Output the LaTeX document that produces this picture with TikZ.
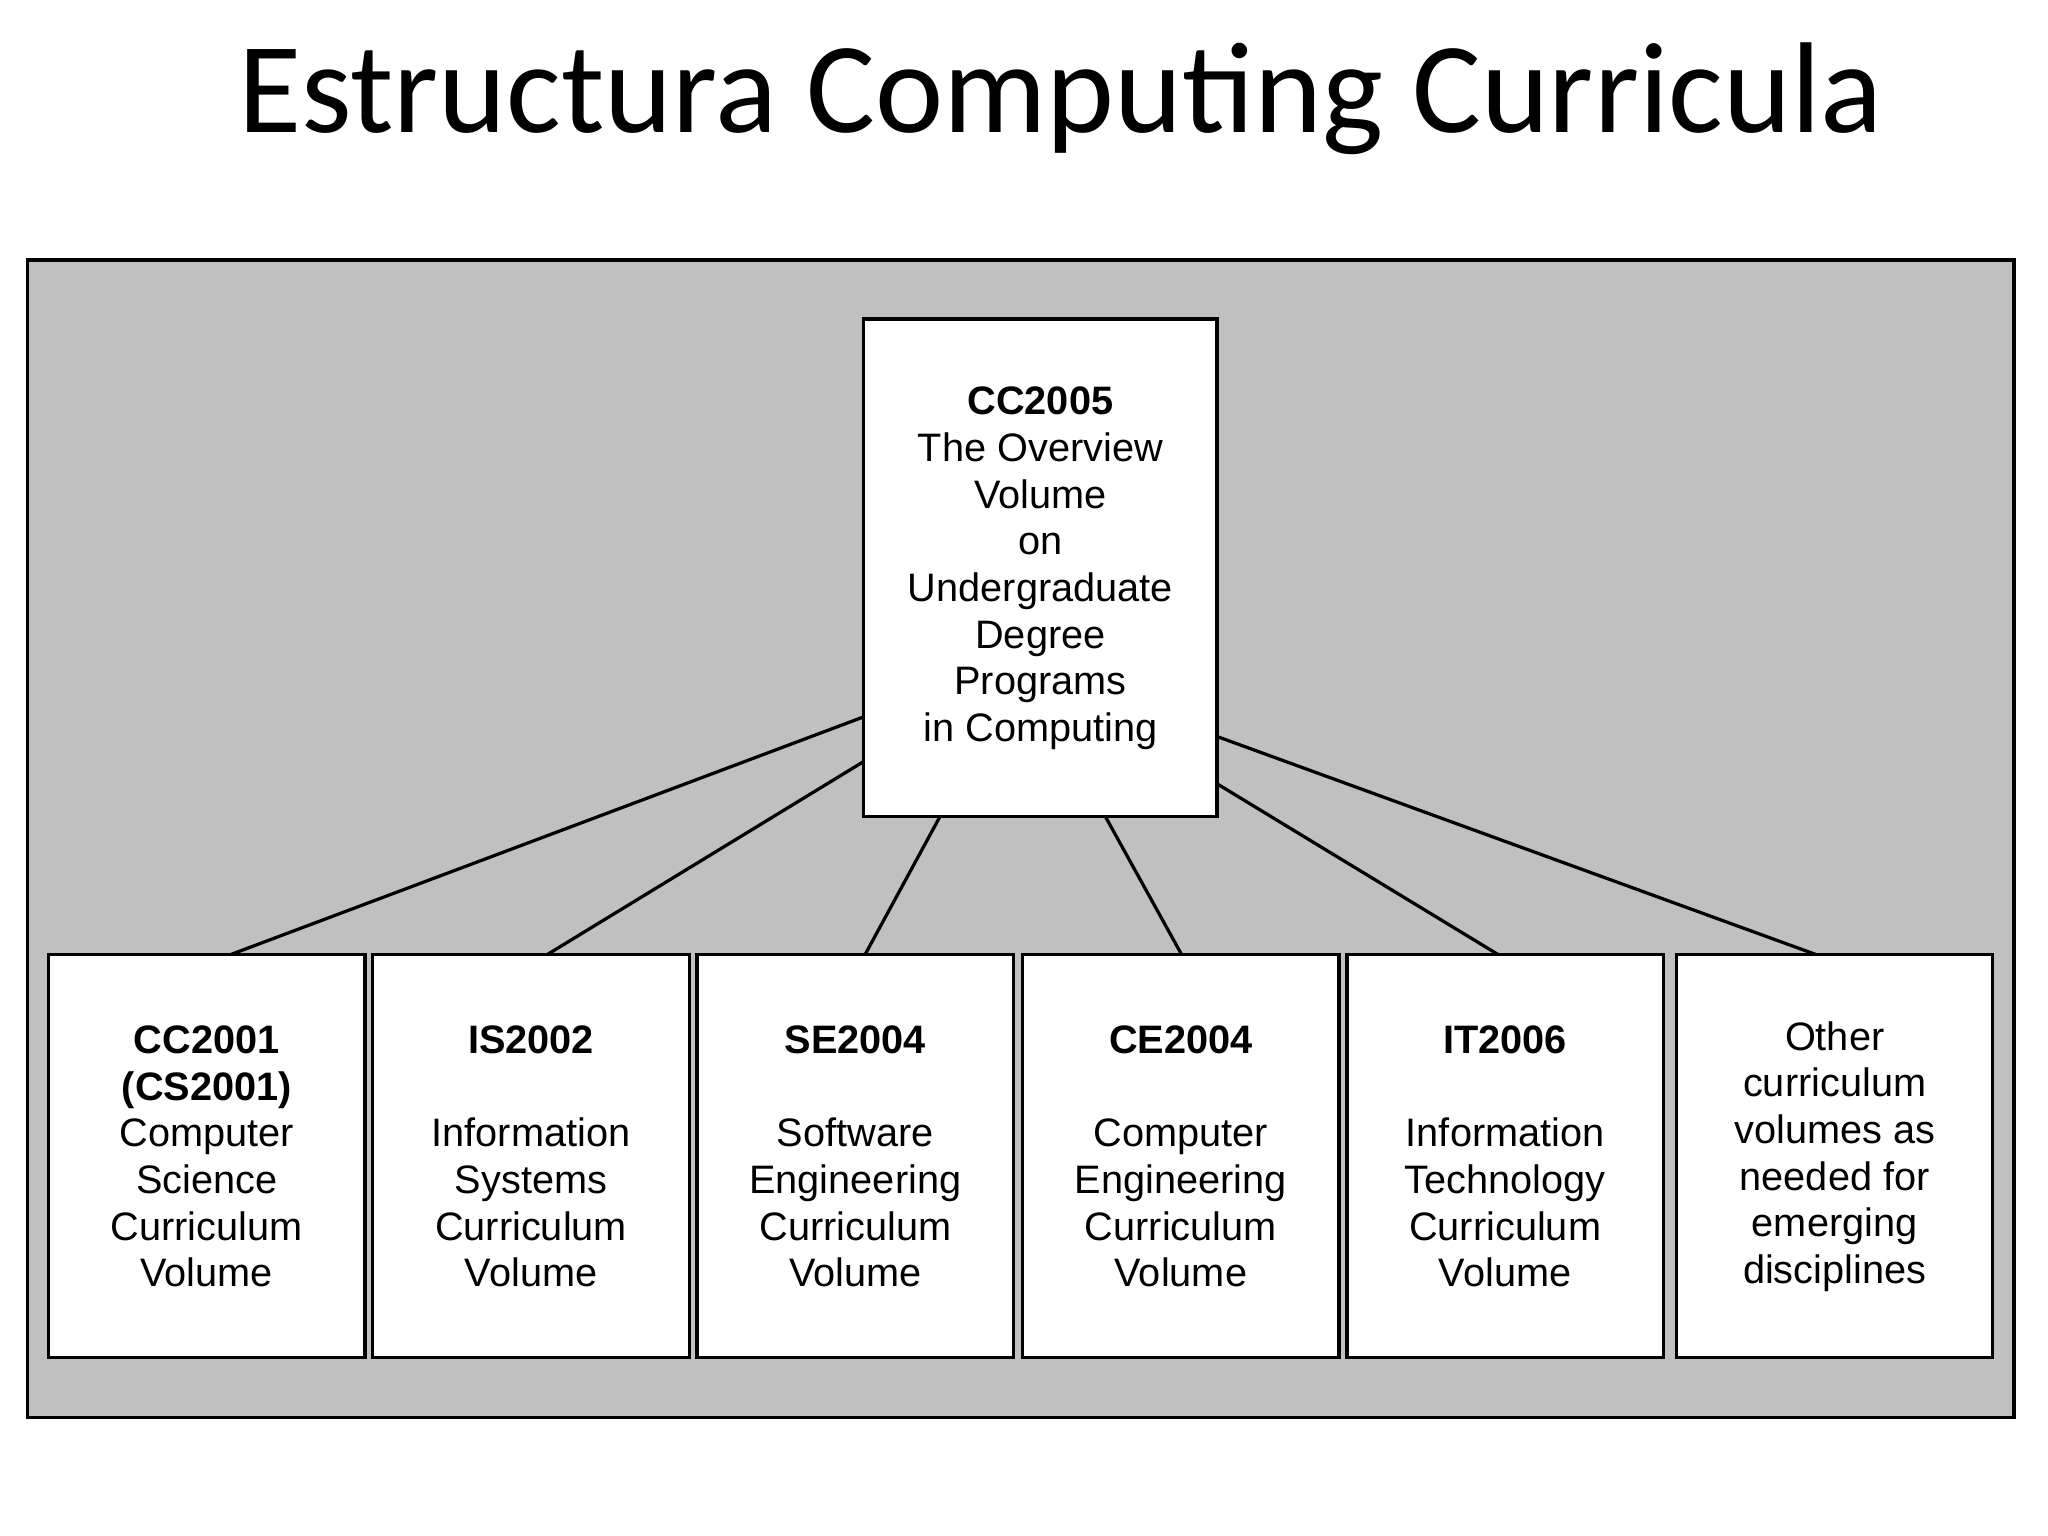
\documentclass[tikz,border=0pt]{standalone}
\usepackage{fontspec}
\setmainfont{Liberation Sans}
\newfontfamily\titlefont{Carlito}
\begin{document}
\begin{tikzpicture}[x=0.01cm,y=-0.01cm,
  box/.style={draw=black,line width=0.7pt,fill=white,inner sep=0pt},
  lbl/.style={align=center,font=\fontsize{8.6}{10.1}\selectfont,inner sep=0pt},
  conn/.style={line width=0.7pt}]
\useasboundingbox (0,0) rectangle (1560,1170);
\node[font=\titlefont\fontsize{28}{32}\selectfont,inner sep=0pt] (title) at (808,75) {Estructura Computing Curricula};
\draw[line width=0.7pt,fill={rgb,255:red,192;green,192;blue,192}] (21,198) rectangle (1534,1080);
% connectors
\coordinate (t1) at (658,546); \coordinate (b1) at (176,727);
\coordinate (t2) at (658,580); \coordinate (b2) at (417,727);
\coordinate (t3) at (716,622); \coordinate (b3) at (659,727);
\coordinate (t4) at (842,622); \coordinate (b4) at (900,727);
\coordinate (t5) at (927,597); \coordinate (b5) at (1141,727);
\coordinate (t6) at (927,561); \coordinate (b6) at (1383,727);
\foreach \i in {1,...,6}{\draw[conn] (t\i) -- (b\i);}
% top box
\draw[box] (658,243) rectangle (927,622);
\node[lbl] (top) at (792.5,433) {\textbf{CC2005}\\The Overview\\Volume\\on\\Undergraduate\\Degree\\Programs\\in Computing};
% bottom boxes
\draw[box] (37,727) rectangle (278,1034);
\draw[box] (284,727) rectangle (525,1034);
\draw[box] (531,727) rectangle (772,1034);
\draw[box] (779,727) rectangle (1020,1034);
\draw[box] (1026,727) rectangle (1267,1034);
\draw[box] (1277,727) rectangle (1518,1034);
\node[lbl] (n1) at (157.5,881) {\textbf{CC2001}\\\textbf{(CS2001)}\\Computer\\Science\\Curriculum\\Volume};
\node[lbl] (n2) at (404.5,881) {\textbf{IS2002}\\[10.1pt]Information\\Systems\\Curriculum\\Volume};
\node[lbl] (n3) at (651.5,881) {\textbf{SE2004}\\[10.1pt]Software\\Engineering\\Curriculum\\Volume};
\node[lbl] (n4) at (899.5,881) {\textbf{CE2004}\\[10.1pt]Computer\\Engineering\\Curriculum\\Volume};
\node[lbl] (n5) at (1146.5,881) {\textbf{IT2006}\\[10.1pt]Information\\Technology\\Curriculum\\Volume};
\node[lbl] (n6) at (1397.5,881) {Other\\curriculum\\volumes as\\needed for\\emerging\\disciplines};
\end{tikzpicture}
\end{document}
